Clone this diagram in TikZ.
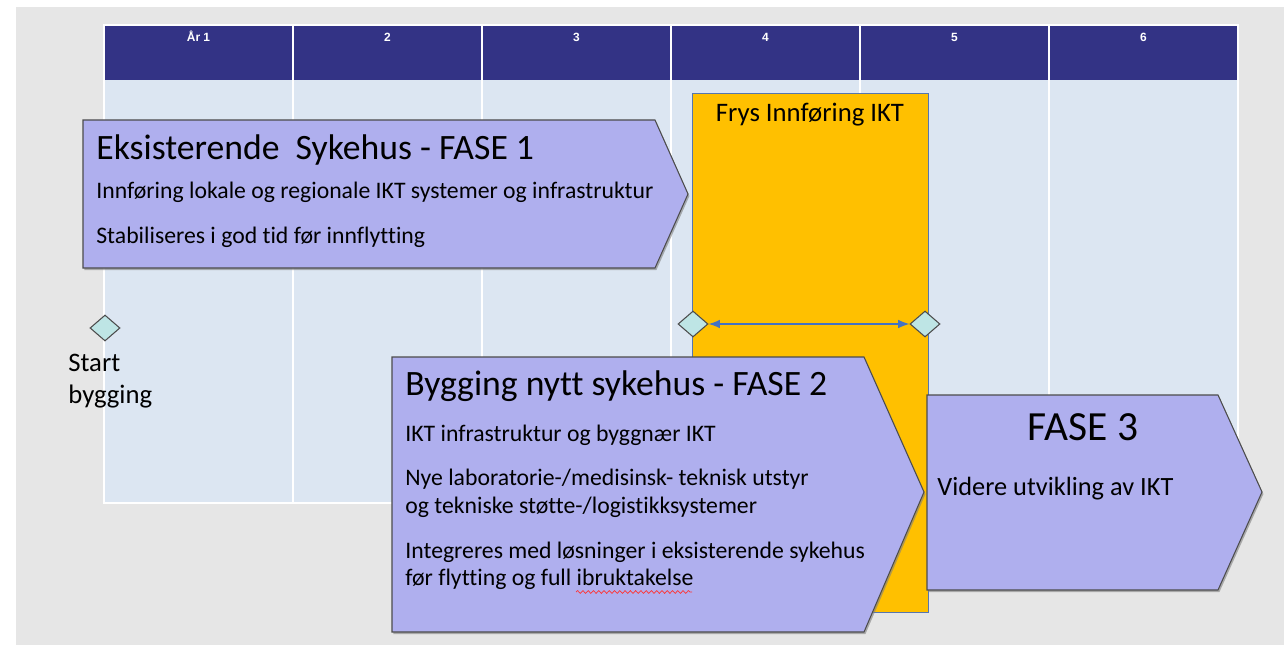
\documentclass[tikz,border=0pt]{standalone}
\usepackage{fontspec}
\setmainfont[Ligatures={NoCommon}]{Carlito}
\setsansfont{Liberation Sans}
\usetikzlibrary{positioning,shapes.geometric,shadows,arrows,decorations.pathmorphing}

\definecolor{hdrblue}{HTML}{333385}
\definecolor{cellblue}{HTML}{DCE6F2}
\definecolor{phasefill}{HTML}{AFAFEE}
\definecolor{frysgold}{HTML}{FFC000}
\definecolor{milefill}{HTML}{BEE5E5}
\definecolor{linkblue}{HTML}{4472C4}
\definecolor{bggray}{HTML}{E6E6E6}

\begin{document}
\begin{tikzpicture}[
  x=0.02cm, y=-0.02cm,
  phase/.style={draw=black!70, fill=phasefill, line width=0.6pt,
    drop shadow={shadow xshift=0.8pt, shadow yshift=-1.2pt, opacity=0.6}},
  phasetitle/.style={anchor=base west, inner sep=0pt, font=\fontsize{20.3}{24}\selectfont},
  phasetext/.style={anchor=base west, inner sep=0pt, font=\fontsize{13.5}{16}\selectfont},
  milestone/.style={draw=black!70, fill=milefill, diamond, line width=0.6pt,
    minimum width=0.6cm, minimum height=0.52cm, inner sep=0pt},
  hdrlabel/.style={text=white, font=\sffamily\bfseries\fontsize{6.8}{8}\selectfont, inner sep=0pt, anchor=base},
  looselabel/.style={anchor=base west, inner sep=0pt, font=\fontsize{15.2}{18}\selectfont}
]

% canvas
\useasboundingbox (0,0) rectangle (1284,645);
\fill[white] (0,0) rectangle (1284,645);
\fill[bggray] (16,7) rectangle (1284,645);

% year grid
\foreach \i/\lbl in {0/År 1,1/2,2/3,3/4,4/5,5/6} {
  \fill[hdrblue] (104+189*\i,25) rectangle (293+189*\i,80);
  \fill[cellblue] (104+189*\i,80) rectangle (293+189*\i,503);
  \draw[white, line width=1pt] (104+189*\i,25) rectangle (293+189*\i,503);
  \node[hdrlabel] (yr\i) at (198.5+189*\i,42) {\lbl};
}

% freeze period
\draw[draw=linkblue!70!gray, fill=frysgold, line width=0.5pt] (692,93) rectangle (928,612);
\node[looselabel, anchor=base] (frys) at (810,122) {Frys Innføring IKT};

% milestones
\node[milestone] (start) at (105,328) {};
\node[looselabel] (startlbl) at (68,371) {Start};
\node[looselabel] (startlbl2) at (68,403) {bygging};
\node[milestone] (frysA) at (693,324) {};
\node[milestone] (frysB) at (925,324) {};
\path (frysA) edge[latex-latex, linkblue, line width=1.2pt] (frysB);

% FASE 1
\draw[phase] (83,120) -- (655,120) -- (688,194) -- (655,268) -- (83,268) -- cycle;
\node[phasetitle] (f1) at (96,160) {Eksisterende\ \ Sykehus - FASE 1};
\node[phasetext] (f1a) at (96,199) {Innføring lokale og regionale IKT systemer og infrastruktur};
\node[phasetext] (f1b) at (96,243) {Stabiliseres i god tid før innflytting};

% FASE 2
\draw[phase] (392,357) -- (864,357) -- (924,492) -- (864,632) -- (392,632) -- cycle;
\node[phasetitle] (f2) at (405,395) {Bygging nytt sykehus - FASE 2};
\node[phasetext] (f2a) at (405,441) {IKT infrastruktur og byggnær IKT};
\node[phasetext] (f2b) at (405,485) {Nye laboratorie-/medisinsk- teknisk utstyr};
\node[phasetext] (f2c) at (405,513) {og tekniske støtte-/logistikksystemer};
\node[phasetext] (f2d) at (405,558) {Integreres med løsninger i eksisterende sykehus};
\node[phasetext] (f2e) at (405,585) {før flytting og full ibruktakelse};
\draw[red!80, line width=0.4pt, decorate, decoration={snake, amplitude=0.8, segment length=3}] (576,592) -- (692,592);

% FASE 3
\draw[phase] (927,395) -- (1218,395) -- (1262,492) -- (1218,590) -- (927,590) -- cycle;
\node[anchor=base, inner sep=0pt, font=\fontsize{23.6}{28}\selectfont] (f3) at (1083,440) {FASE 3};
\node[phasetext, font=\fontsize{15}{18}\selectfont] (f3a) at (937,495) {Videre utvikling av IKT};

\end{tikzpicture}
\end{document}
